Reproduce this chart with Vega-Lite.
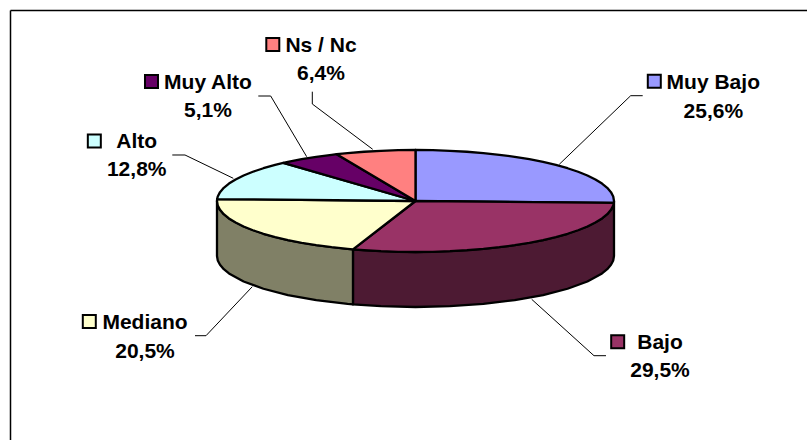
{"$schema":"https://vega.github.io/schema/vega-lite/v6.json","width":797,"height":430,"autosize":"none","padding":{"left":10,"top":10,"right":0,"bottom":0},"background":"white","view":{"stroke":null},
"datasets":{
"faces":[
{"k":"Bajo side","i":0,"u":1,"v":0},{"k":"Bajo side","i":1,"u":0.9962,"v":-0.0872},{"k":"Bajo side","i":2,"u":0.9848,"v":-0.1736},{"k":"Bajo side","i":3,"u":0.9659,"v":-0.2588},{"k":"Bajo side","i":4,"u":0.9397,"v":-0.342},{"k":"Bajo side","i":5,"u":0.866,"v":-0.5},{"k":"Bajo side","i":6,"u":0.766,"v":-0.6428},{"k":"Bajo side","i":7,"u":0.6428,"v":-0.766},{"k":"Bajo side","i":8,"u":0.5,"v":-0.866},{"k":"Bajo side","i":9,"u":0.342,"v":-0.9397},{"k":"Bajo side","i":10,"u":0.1736,"v":-0.9848},{"k":"Bajo side","i":11,"u":0,"v":-1},{"k":"Bajo side","i":12,"u":-0.1736,"v":-0.9848},{"k":"Bajo side","i":13,"u":-0.315,"v":-0.9491},
{"k":"Bajo side","i":14,"u":-0.315,"v":-2.0271},{"k":"Bajo side","i":15,"u":-0.1736,"v":-2.0628},{"k":"Bajo side","i":16,"u":0,"v":-2.078},{"k":"Bajo side","i":17,"u":0.1736,"v":-2.0628},{"k":"Bajo side","i":18,"u":0.342,"v":-2.0177},{"k":"Bajo side","i":19,"u":0.5,"v":-1.944},{"k":"Bajo side","i":20,"u":0.6428,"v":-1.844},{"k":"Bajo side","i":21,"u":0.766,"v":-1.7208},{"k":"Bajo side","i":22,"u":0.866,"v":-1.578},{"k":"Bajo side","i":23,"u":0.9397,"v":-1.42},{"k":"Bajo side","i":24,"u":0.9659,"v":-1.3368},{"k":"Bajo side","i":25,"u":0.9848,"v":-1.2516},{"k":"Bajo side","i":26,"u":0.9962,"v":-1.165},{"k":"Bajo side","i":27,"u":1,"v":-1.078},{"k":"Bajo side","i":28,"u":1,"v":0},
{"k":"Mediano side","i":0,"u":-0.315,"v":-0.9491},{"k":"Mediano side","i":1,"u":-0.342,"v":-0.9397},{"k":"Mediano side","i":2,"u":-0.5,"v":-0.866},{"k":"Mediano side","i":3,"u":-0.6428,"v":-0.766},{"k":"Mediano side","i":4,"u":-0.766,"v":-0.6428},{"k":"Mediano side","i":5,"u":-0.866,"v":-0.5},{"k":"Mediano side","i":6,"u":-0.9397,"v":-0.342},{"k":"Mediano side","i":7,"u":-0.9659,"v":-0.2588},{"k":"Mediano side","i":8,"u":-0.9848,"v":-0.1736},{"k":"Mediano side","i":9,"u":-0.9962,"v":-0.0872},{"k":"Mediano side","i":10,"u":-1,"v":0},
{"k":"Mediano side","i":11,"u":-1,"v":-1.078},{"k":"Mediano side","i":12,"u":-0.9962,"v":-1.165},{"k":"Mediano side","i":13,"u":-0.9848,"v":-1.2516},{"k":"Mediano side","i":14,"u":-0.9659,"v":-1.3368},{"k":"Mediano side","i":15,"u":-0.9397,"v":-1.42},{"k":"Mediano side","i":16,"u":-0.866,"v":-1.578},{"k":"Mediano side","i":17,"u":-0.766,"v":-1.7208},{"k":"Mediano side","i":18,"u":-0.6428,"v":-1.844},{"k":"Mediano side","i":19,"u":-0.5,"v":-1.944},{"k":"Mediano side","i":20,"u":-0.342,"v":-2.0177},{"k":"Mediano side","i":21,"u":-0.315,"v":-2.0271},{"k":"Mediano side","i":22,"u":-0.315,"v":-0.9491},
{"k":"Muy Bajo","i":0,"u":0,"v":0},{"k":"Muy Bajo","i":1,"u":0,"v":1},{"k":"Muy Bajo","i":2,"u":0.0872,"v":0.9962},{"k":"Muy Bajo","i":3,"u":0.1736,"v":0.9848},{"k":"Muy Bajo","i":4,"u":0.2588,"v":0.9659},{"k":"Muy Bajo","i":5,"u":0.342,"v":0.9397},{"k":"Muy Bajo","i":6,"u":0.4226,"v":0.9063},{"k":"Muy Bajo","i":7,"u":0.5,"v":0.866},{"k":"Muy Bajo","i":8,"u":0.5736,"v":0.8192},{"k":"Muy Bajo","i":9,"u":0.6428,"v":0.766},{"k":"Muy Bajo","i":10,"u":0.7071,"v":0.7071},{"k":"Muy Bajo","i":11,"u":0.766,"v":0.6428},{"k":"Muy Bajo","i":12,"u":0.8192,"v":0.5736},{"k":"Muy Bajo","i":13,"u":0.866,"v":0.5},{"k":"Muy Bajo","i":14,"u":0.9063,"v":0.4226},{"k":"Muy Bajo","i":15,"u":0.9397,"v":0.342},{"k":"Muy Bajo","i":16,"u":0.9659,"v":0.2588},{"k":"Muy Bajo","i":17,"u":0.9848,"v":0.1736},{"k":"Muy Bajo","i":18,"u":0.9962,"v":0.0872},{"k":"Muy Bajo","i":19,"u":1,"v":0},{"k":"Muy Bajo","i":20,"u":0.9993,"v":-0.0377},{"k":"Muy Bajo","i":21,"u":0,"v":0},
{"k":"Bajo","i":0,"u":0,"v":0},{"k":"Bajo","i":1,"u":0.9993,"v":-0.0377},{"k":"Bajo","i":2,"u":0.9962,"v":-0.0872},{"k":"Bajo","i":3,"u":0.9848,"v":-0.1736},{"k":"Bajo","i":4,"u":0.9659,"v":-0.2588},{"k":"Bajo","i":5,"u":0.9397,"v":-0.342},{"k":"Bajo","i":6,"u":0.9063,"v":-0.4226},{"k":"Bajo","i":7,"u":0.866,"v":-0.5},{"k":"Bajo","i":8,"u":0.8192,"v":-0.5736},{"k":"Bajo","i":9,"u":0.766,"v":-0.6428},{"k":"Bajo","i":10,"u":0.7071,"v":-0.7071},{"k":"Bajo","i":11,"u":0.6428,"v":-0.766},{"k":"Bajo","i":12,"u":0.5736,"v":-0.8192},{"k":"Bajo","i":13,"u":0.5,"v":-0.866},{"k":"Bajo","i":14,"u":0.4226,"v":-0.9063},{"k":"Bajo","i":15,"u":0.342,"v":-0.9397},{"k":"Bajo","i":16,"u":0.2588,"v":-0.9659},{"k":"Bajo","i":17,"u":0.1736,"v":-0.9848},{"k":"Bajo","i":18,"u":0.0872,"v":-0.9962},{"k":"Bajo","i":19,"u":0,"v":-1},{"k":"Bajo","i":20,"u":-0.0872,"v":-0.9962},{"k":"Bajo","i":21,"u":-0.1736,"v":-0.9848},{"k":"Bajo","i":22,"u":-0.2588,"v":-0.9659},{"k":"Bajo","i":23,"u":-0.315,"v":-0.9491},{"k":"Bajo","i":24,"u":0,"v":0},
{"k":"Mediano","i":0,"u":0,"v":0},{"k":"Mediano","i":1,"u":-0.315,"v":-0.9491},{"k":"Mediano","i":2,"u":-0.342,"v":-0.9397},{"k":"Mediano","i":3,"u":-0.4226,"v":-0.9063},{"k":"Mediano","i":4,"u":-0.5,"v":-0.866},{"k":"Mediano","i":5,"u":-0.5736,"v":-0.8192},{"k":"Mediano","i":6,"u":-0.6428,"v":-0.766},{"k":"Mediano","i":7,"u":-0.7071,"v":-0.7071},{"k":"Mediano","i":8,"u":-0.766,"v":-0.6428},{"k":"Mediano","i":9,"u":-0.8192,"v":-0.5736},{"k":"Mediano","i":10,"u":-0.866,"v":-0.5},{"k":"Mediano","i":11,"u":-0.9063,"v":-0.4226},{"k":"Mediano","i":12,"u":-0.9397,"v":-0.342},{"k":"Mediano","i":13,"u":-0.9659,"v":-0.2588},{"k":"Mediano","i":14,"u":-0.9848,"v":-0.1736},{"k":"Mediano","i":15,"u":-0.9962,"v":-0.0872},{"k":"Mediano","i":16,"u":-1,"v":0},{"k":"Mediano","i":17,"u":-0.9993,"v":0.0377},{"k":"Mediano","i":18,"u":0,"v":0},
{"k":"Alto","i":0,"u":0,"v":0},{"k":"Alto","i":1,"u":-0.9993,"v":0.0377},{"k":"Alto","i":2,"u":-0.9962,"v":0.0872},{"k":"Alto","i":3,"u":-0.9848,"v":0.1736},{"k":"Alto","i":4,"u":-0.9659,"v":0.2588},{"k":"Alto","i":5,"u":-0.9397,"v":0.342},{"k":"Alto","i":6,"u":-0.9063,"v":0.4226},{"k":"Alto","i":7,"u":-0.866,"v":0.5},{"k":"Alto","i":8,"u":-0.8192,"v":0.5736},{"k":"Alto","i":9,"u":-0.766,"v":0.6428},{"k":"Alto","i":10,"u":-0.7071,"v":0.7071},{"k":"Alto","i":11,"u":-0.666,"v":0.7459},{"k":"Alto","i":12,"u":0,"v":0},
{"k":"Muy Alto","i":0,"u":0,"v":0},{"k":"Muy Alto","i":1,"u":-0.666,"v":0.7459},{"k":"Muy Alto","i":2,"u":-0.6428,"v":0.766},{"k":"Muy Alto","i":3,"u":-0.5736,"v":0.8192},{"k":"Muy Alto","i":4,"u":-0.5,"v":0.866},{"k":"Muy Alto","i":5,"u":-0.4226,"v":0.9063},{"k":"Muy Alto","i":6,"u":-0.3971,"v":0.9178},{"k":"Muy Alto","i":7,"u":0,"v":0},
{"k":"Ns / Nc","i":0,"u":0,"v":0},{"k":"Ns / Nc","i":1,"u":-0.3971,"v":0.9178},{"k":"Ns / Nc","i":2,"u":-0.342,"v":0.9397},{"k":"Ns / Nc","i":3,"u":-0.2588,"v":0.9659},{"k":"Ns / Nc","i":4,"u":-0.1736,"v":0.9848},{"k":"Ns / Nc","i":5,"u":-0.0872,"v":0.9962},{"k":"Ns / Nc","i":6,"u":0,"v":1},{"k":"Ns / Nc","i":7,"u":0,"v":0}
],
"leaders":[
{"k":"Muy Bajo","i":0,"u":0.7244,"v":0.7196},{"k":"Muy Bajo","i":1,"u":1.0841,"v":2.0647},{"k":"Muy Bajo","i":2,"u":1.1446,"v":2.0647},
{"k":"Ns / Nc","i":0,"u":-0.2156,"v":1.0137},{"k":"Ns / Nc","i":1,"u":-0.5199,"v":1.902},{"k":"Ns / Nc","i":2,"u":-0.5199,"v":2.1431},
{"k":"Muy Alto","i":0,"u":-0.5481,"v":0.8686},{"k":"Muy Alto","i":1,"u":-0.7295,"v":2.0588},{"k":"Muy Alto","i":2,"u":-0.7919,"v":2.0588},
{"k":"Alto","i":0,"u":-0.9179,"v":0.4451},{"k":"Alto","i":1,"u":-1.1612,"v":0.902},{"k":"Alto","i":2,"u":-1.2252,"v":0.902},
{"k":"Mediano","i":0,"u":-0.8222,"v":-1.6804},{"k":"Mediano","i":1,"u":-1.0554,"v":-2.6412},{"k":"Mediano","i":2,"u":-1.1108,"v":-2.6412},
{"k":"Bajo","i":0,"u":0.5854,"v":-1.9275},{"k":"Bajo","i":1,"u":0.8992,"v":-3.0333},{"k":"Bajo","i":2,"u":0.9597,"v":-3.0333}
],
"keys":[
{"k":"Muy Bajo","u":1.203,"v":2.347},{"k":"Ns / Nc","u":-0.7189,"v":3.0686},{"k":"Muy Alto","u":-1.33,"v":2.343},{"k":"Alto","u":-1.618,"v":1.1765},{"k":"Mediano","u":-1.6433,"v":-2.3627},{"k":"Bajo","u":1.0186,"v":-2.7588}
],
"texts":[
{"t":"Muy Bajo","u":1.5002,"v":2.196},{"t":"25,6%","u":1.5002,"v":1.633},
{"t":"Ns / Nc","u":-0.4761,"v":2.9216},{"t":"6,4%","u":-0.4761,"v":2.3667},
{"t":"Muy Alto","u":-1.0453,"v":2.202},{"t":"5,1%","u":-1.0453,"v":1.647},
{"t":"Alto","u":-1.4045,"v":1.039},{"t":"12,8%","u":-1.4045,"v":0.4843},
{"t":"Mediano","u":-1.3627,"v":-2.504},{"t":"20,5%","u":-1.3627,"v":-3.0725},
{"t":"Bajo","u":1.2317,"v":-2.896},{"t":"29,5%","u":1.2317,"v":-3.457}
]
},
"encoding":{
"x":{"field":"u","type":"quantitative","scale":{"domain":[-2.0428,1.9723],"nice":false,"zero":false},"axis":{"orient":"top","title":null,"labels":false,"ticks":false,"grid":false,"domain":true,"domainColor":"#000000","domainWidth":1.5}},
"y":{"field":"v","type":"quantitative","scale":{"domain":[-4.6863,3.7451],"nice":false,"zero":false},"axis":{"orient":"left","title":null,"labels":false,"ticks":false,"grid":false,"domain":true,"domainColor":"#000000","domainWidth":1.5}}
},
"layer":[
{"data":{"name":"faces"},"mark":{"type":"line","filled":true,"stroke":"#000000","strokeWidth":2.3,"strokeJoin":"round","clip":false},
"encoding":{"order":{"field":"i","type":"quantitative"},"fill":{"field":"k","type":"nominal","legend":null,"scale":{"domain":["Muy Bajo","Bajo","Mediano","Alto","Muy Alto","Ns / Nc","Bajo side","Mediano side"],"range":["#9999FF","#993366","#FFFFCC","#CCFFFF","#660066","#FF8080","#4D1A33","#808066"]}}}},
{"data":{"name":"leaders"},"mark":{"type":"line","stroke":"#000000","strokeWidth":1},
"encoding":{"order":{"field":"i","type":"quantitative"},"detail":{"field":"k","type":"nominal"}}},
{"data":{"name":"keys"},"mark":{"type":"point","shape":"square","filled":true,"size":169,"stroke":"#000000","strokeWidth":2,"opacity":1},
"encoding":{"fill":{"field":"k","type":"nominal","legend":null}}},
{"data":{"name":"texts"},"mark":{"type":"text","font":"Liberation Sans","fontWeight":"bold","fontSize":21,"align":"center","baseline":"alphabetic","fill":"#000000"},
"encoding":{"text":{"field":"t","type":"nominal"}}}
]}
